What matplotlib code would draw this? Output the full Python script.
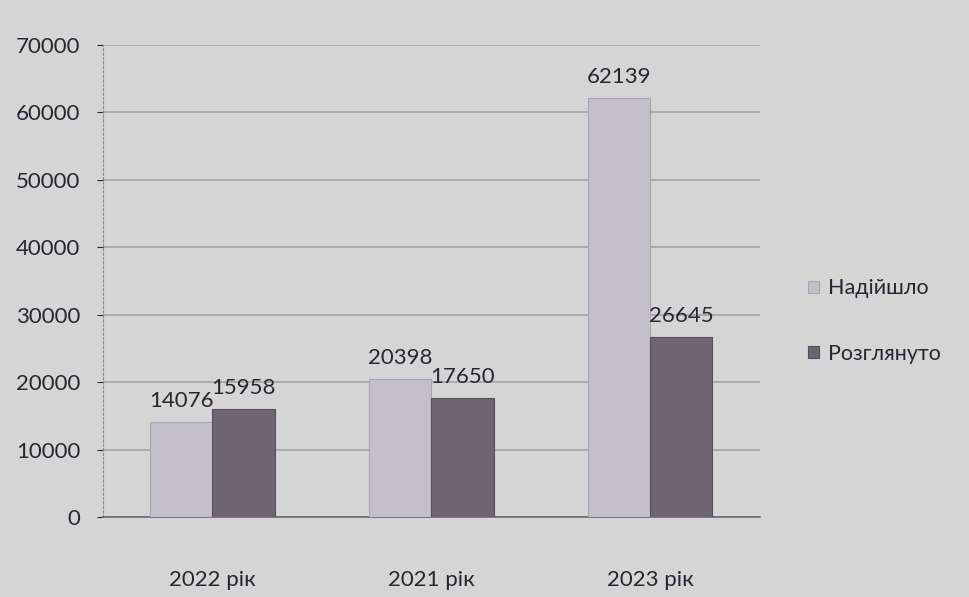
import matplotlib.pyplot as plt
import numpy as np

# data
categories = ['2022 рік', '2021 рік', '2023 рік']
received = [14076, 20398, 62139]     # Надійшло
reviewed = [15958, 17650, 26645]     # Розглянуто
series_names = ['Надійшло', 'Розглянуто']
y_ticks = [0, 10000, 20000, 30000, 40000, 50000, 60000, 70000]

plt.rcParams['font.family'] = ['Lato', 'DejaVu Sans']

bg = '#d5d5d5'
txt = '#2a2530'
fig = plt.figure(figsize=(9.7, 5.97), dpi=100, facecolor=bg)
ax = fig.add_axes([0.106, 0.134, 0.677, 0.791], facecolor=bg)

x = np.arange(len(categories))
w = 0.285
b1 = ax.bar(x - w / 2, received, w, color='#c3c0c9', edgecolor='#a9a5b0',
            linewidth=0.8, label=series_names[0], zorder=3)
b2 = ax.bar(x + w / 2, reviewed, w, color='#6d6571', edgecolor='#55505a',
            linewidth=0.8, label=series_names[1], zorder=3)

for bars, vals in ((b1, received), (b2, reviewed)):
    for r, v in zip(bars, vals):
        ax.annotate(str(v), (r.get_x() + r.get_width() / 2, v),
                    xytext=(0, 8), textcoords='offset points',
                    ha='center', va='bottom', fontsize=16, color=txt)

ax.set_xlim(-0.5, len(categories) - 0.5)
ax.set_ylim(0, 70000)
ax.set_yticks(y_ticks)
ax.set_yticklabels([str(t) for t in y_ticks])
ax.set_xticks(x)
ax.set_xticklabels(categories)
ax.tick_params(axis='y', length=4, pad=12, labelsize=16, colors=txt)
ax.tick_params(axis='x', length=0, pad=38, labelsize=16, colors=txt)

ax.yaxis.grid(True, color='#a3a3a3', linewidth=1.2, zorder=0)
ax.set_axisbelow(True)
for s in ('top', 'right'):
    ax.spines[s].set_visible(False)
ax.spines['left'].set_color('#8c8c8c')
ax.spines['left'].set_linestyle((0, (2, 2)))
ax.spines['bottom'].set_color('#6a6a6a')
ax.spines['bottom'].set_linewidth(1.2)

ax.legend(loc='center left', bbox_to_anchor=(1.045, 0.415), frameon=False,
          fontsize=15.5, labelspacing=2.1, handlelength=0.5, handleheight=0.5,
          handletextpad=0.4, labelcolor=txt)

plt.savefig('out.png', dpi=100, facecolor=bg)
